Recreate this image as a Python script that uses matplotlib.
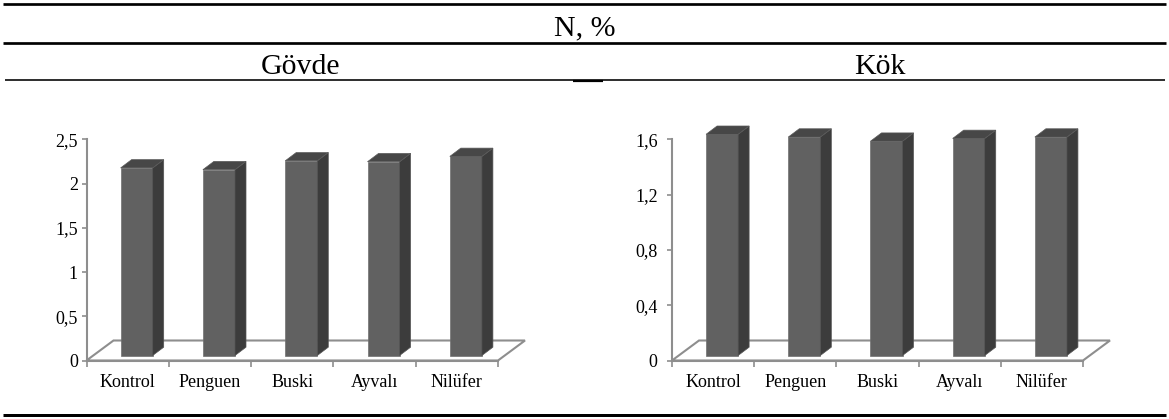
import numpy as np
import matplotlib
matplotlib.use("Agg")
import matplotlib.pyplot as plt
from matplotlib.patches import Polygon
from matplotlib.lines import Line2D

# Nitrogen content (%) by variety
categories = ["Kontrol", "Penguen", "Buski", "Ayvalı", "Nilüfer"]
govde_values = [2.12, 2.10, 2.20, 2.19, 2.25]
kok_values = [1.60, 1.58, 1.55, 1.57, 1.58]

govde_ticks = [0, 0.5, 1, 1.5, 2, 2.5]
govde_ticklabels = ["0", "0,5", "1", "1,5", "2", "2,5"]
kok_ticks = [0, 0.4, 0.8, 1.2, 1.6]
kok_ticklabels = ["0", "0,4", "0,8", "1,2", "1,6"]

header_title = "N, %"
panel_titles = ["Gövde", "Kök"]

SERIF = ["Liberation Serif", "DejaVu Serif"]
AXIS_GRAY = "#8e8e8e"
FRONT = "#616161"
SIDE = "#3c3c3c"
TOP = "#474747"

W, H = 1169, 419
fig = plt.figure(figsize=(W / 100, H / 100), dpi=100)


def add_px_axes(left, top, right, bottom):
    return fig.add_axes([left / W, 1 - bottom / H, (right - left) / W, (bottom - top) / H])


def px_to_data(ax, dx, dy):
    p = ax.transData.transform([(0, 0), (1, 1)])
    sx, sy = p[1] - p[0]
    return dx / sx, dy / sy


def draw_panel(ax, values, ticks, ticklabels, ymax, label_pad):
    n = len(values)
    ax.set_xlim(-0.5, n - 0.5)
    ax.set_ylim(0, ymax)
    ax.set_facecolor("none")
    for s in ["top", "right"]:
        ax.spines[s].set_visible(False)
    for s in ["left", "bottom"]:
        ax.spines[s].set_color(AXIS_GRAY)
        ax.spines[s].set_linewidth(1.5)

    # value axis
    ax.set_yticks(ticks)
    ax.set_yticklabels(ticklabels, family=SERIF, fontsize=13)
    ax.tick_params(axis="y", direction="out", length=3.8, width=1.2,
                   color=AXIS_GRAY, pad=label_pad)

    # category axis: tick marks at boundaries, labels at centres
    ax.set_xticks(np.arange(-0.5, n, 1.0))
    ax.set_xticklabels([])
    ax.set_xticks(np.arange(n), minor=True)
    ax.set_xticklabels(categories, minor=True, family=SERIF, fontsize=13)
    ax.tick_params(axis="x", which="major", direction="out", length=4.5,
                   width=1.2, color=AXIS_GRAY)
    ax.tick_params(axis="x", which="minor", length=0, pad=9.5)

    # floor (depth in pixels)
    fdx, fdy = px_to_data(ax, 27, 20)
    x0, x1 = -0.5, n - 0.5
    floor = Polygon([(x0, 0), (x1, 0), (x1 + fdx, fdy), (x0 + fdx, fdy)],
                    closed=True, facecolor="white", edgecolor=AXIS_GRAY,
                    linewidth=1.5, clip_on=False, zorder=1)
    ax.add_patch(floor)

    # 3D columns
    hw = 0.195
    ox, oy = px_to_data(ax, 9, 5)      # front face offset
    dx, dy = px_to_data(ax, 11, 8.3)   # column depth
    for i, v in enumerate(values):
        l, r = i - hw + ox, i + hw + ox
        b, t = oy, v + oy
        front = Polygon([(l, b), (r, b), (r, t), (l, t)], closed=True,
                        facecolor=FRONT, edgecolor="#707070", linewidth=0.5,
                        clip_on=False, zorder=3)
        side = Polygon([(r, b), (r + dx, b + dy), (r + dx, t + dy), (r, t)],
                       closed=True, facecolor=SIDE, edgecolor="#555555",
                       linewidth=0.5, clip_on=False, zorder=3)
        top = Polygon([(l, t), (r, t), (r + dx, t + dy), (l + dx, t + dy)],
                      closed=True, facecolor=TOP, edgecolor="#5a5a5a",
                      linewidth=0.5, clip_on=False, zorder=3)
        for p in (front, side, top):
            ax.add_patch(p)


ax1 = add_px_axes(86.5, 139.3, 498, 360.5)
draw_panel(ax1, govde_values, govde_ticks, govde_ticklabels, 2.5, 2.5)

ax2 = add_px_axes(672, 139.3, 1083, 360.5)
draw_panel(ax2, kok_values, kok_ticks, kok_ticklabels, 1.6, 6.5)


# table rules and headings
def hline(y, x0, x1, lw_px):
    fig.add_artist(Line2D([x0 / W, x1 / W], [1 - y / H, 1 - y / H],
                          color="black", linewidth=lw_px * 0.72,
                          solid_capstyle="butt"))


hline(4, 3, 1166, 2.7)
hline(42.7, 3, 1166, 2.7)
hline(80.2, 5, 1165, 1.6)
hline(81.2, 573, 603, 2.2)
hline(415, 3, 1166, 3.0)

fig.text(584.5 / W, 1 - 35 / H, header_title, ha="center", va="baseline",
         family=SERIF, fontsize=21.5)
fig.text(300 / W, 1 - 73.5 / H, panel_titles[0], ha="center", va="baseline",
         family=SERIF, fontsize=21.5)
fig.text(880 / W, 1 - 73.5 / H, panel_titles[1], ha="center", va="baseline",
         family=SERIF, fontsize=21.5)

fig.savefig("out.png", dpi=100, facecolor="white")
